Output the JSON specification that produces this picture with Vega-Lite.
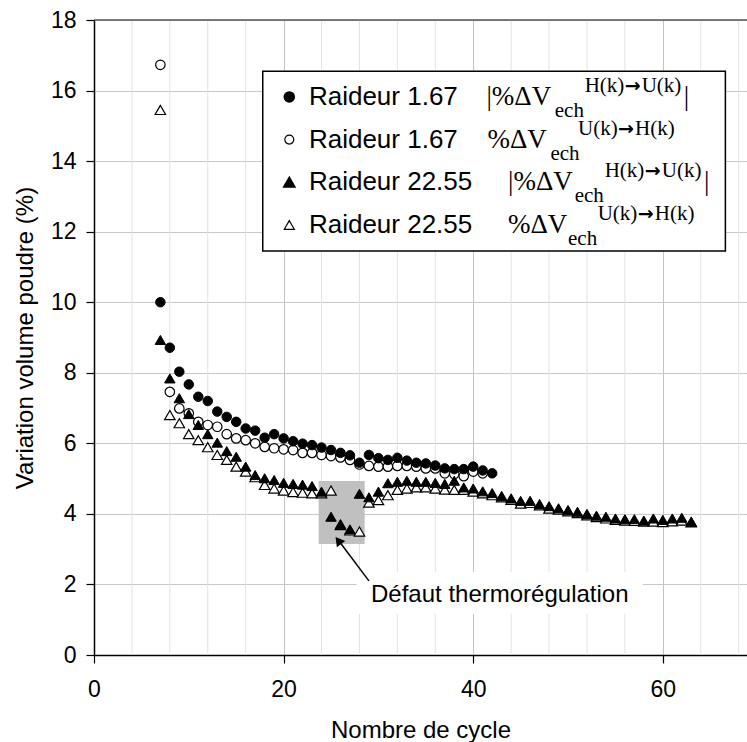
{
  "$schema": "https://vega.github.io/schema/vega-lite/v6.json",
  "autosize": "none",
  "width": 653,
  "height": 635,
  "padding": {"left": 94, "right": 0, "top": 20, "bottom": 87},
  "background": "white",
  "config": {"view": {"stroke": null}, "font": "Liberation Sans"},
  "datasets": {
    "one": [{}],
    "minorgrid": [{"g": 4}, {"g": 8}, {"g": 12}, {"g": 16}, {"g": 24}, {"g": 28}, {"g": 32}, {"g": 36}, {"g": 44}, {"g": 48}, {"g": 52}, {"g": 56}, {"g": 64}, {"g": 68}],
    "pts": [
      {"c": 7, "v": 15.45, "s": "22.55 U-H"}, {"c": 8, "v": 6.8, "s": "22.55 U-H"}, {"c": 9, "v": 6.57, "s": "22.55 U-H"}, {"c": 10, "v": 6.26, "s": "22.55 U-H"},
      {"c": 11, "v": 6.09, "s": "22.55 U-H"}, {"c": 12, "v": 5.89, "s": "22.55 U-H"}, {"c": 13, "v": 5.67, "s": "22.55 U-H"}, {"c": 14, "v": 5.53, "s": "22.55 U-H"},
      {"c": 15, "v": 5.34, "s": "22.55 U-H"}, {"c": 16, "v": 5.2, "s": "22.55 U-H"}, {"c": 17, "v": 5.04, "s": "22.55 U-H"}, {"c": 18, "v": 4.82, "s": "22.55 U-H"},
      {"c": 19, "v": 4.72, "s": "22.55 U-H"}, {"c": 20, "v": 4.66, "s": "22.55 U-H"}, {"c": 21, "v": 4.62, "s": "22.55 U-H"}, {"c": 22, "v": 4.6, "s": "22.55 U-H"},
      {"c": 23, "v": 4.58, "s": "22.55 U-H"}, {"c": 24, "v": 4.58, "s": "22.55 U-H"}, {"c": 25, "v": 4.66, "s": "22.55 U-H"}, {"c": 26, "v": 3.68, "s": "22.55 U-H"},
      {"c": 27, "v": 3.53, "s": "22.55 U-H"}, {"c": 28, "v": 3.5, "s": "22.55 U-H"}, {"c": 29, "v": 4.32, "s": "22.55 U-H"}, {"c": 30, "v": 4.39, "s": "22.55 U-H"},
      {"c": 31, "v": 4.53, "s": "22.55 U-H"}, {"c": 32, "v": 4.68, "s": "22.55 U-H"}, {"c": 33, "v": 4.72, "s": "22.55 U-H"}, {"c": 34, "v": 4.75, "s": "22.55 U-H"},
      {"c": 35, "v": 4.75, "s": "22.55 U-H"}, {"c": 36, "v": 4.72, "s": "22.55 U-H"}, {"c": 37, "v": 4.69, "s": "22.55 U-H"}, {"c": 38, "v": 4.68, "s": "22.55 U-H"},
      {"c": 39, "v": 4.68, "s": "22.55 U-H"}, {"c": 40, "v": 4.63, "s": "22.55 U-H"}, {"c": 41, "v": 4.58, "s": "22.55 U-H"}, {"c": 42, "v": 4.53, "s": "22.55 U-H"},
      {"c": 43, "v": 4.47, "s": "22.55 U-H"}, {"c": 44, "v": 4.4, "s": "22.55 U-H"}, {"c": 45, "v": 4.29, "s": "22.55 U-H"}, {"c": 46, "v": 4.31, "s": "22.55 U-H"},
      {"c": 47, "v": 4.24, "s": "22.55 U-H"}, {"c": 48, "v": 4.15, "s": "22.55 U-H"}, {"c": 49, "v": 4.12, "s": "22.55 U-H"}, {"c": 50, "v": 4.07, "s": "22.55 U-H"},
      {"c": 51, "v": 4.02, "s": "22.55 U-H"}, {"c": 52, "v": 3.96, "s": "22.55 U-H"}, {"c": 53, "v": 3.91, "s": "22.55 U-H"}, {"c": 54, "v": 3.87, "s": "22.55 U-H"},
      {"c": 55, "v": 3.83, "s": "22.55 U-H"}, {"c": 56, "v": 3.81, "s": "22.55 U-H"}, {"c": 57, "v": 3.8, "s": "22.55 U-H"}, {"c": 58, "v": 3.78, "s": "22.55 U-H"},
      {"c": 59, "v": 3.78, "s": "22.55 U-H"}, {"c": 60, "v": 3.77, "s": "22.55 U-H"}, {"c": 61, "v": 3.79, "s": "22.55 U-H"}, {"c": 62, "v": 3.81, "s": "22.55 U-H"},
      {"c": 63, "v": 3.76, "s": "22.55 U-H"},

      {"c": 7, "v": 16.73, "s": "1.67 U-H"}, {"c": 8, "v": 7.46, "s": "1.67 U-H"}, {"c": 9, "v": 6.99, "s": "1.67 U-H"}, {"c": 10, "v": 6.85, "s": "1.67 U-H"},
      {"c": 11, "v": 6.61, "s": "1.67 U-H"}, {"c": 12, "v": 6.52, "s": "1.67 U-H"}, {"c": 13, "v": 6.47, "s": "1.67 U-H"}, {"c": 14, "v": 6.26, "s": "1.67 U-H"},
      {"c": 15, "v": 6.14, "s": "1.67 U-H"}, {"c": 16, "v": 6.09, "s": "1.67 U-H"}, {"c": 17, "v": 6.0, "s": "1.67 U-H"}, {"c": 18, "v": 5.9, "s": "1.67 U-H"},
      {"c": 19, "v": 5.86, "s": "1.67 U-H"}, {"c": 20, "v": 5.83, "s": "1.67 U-H"}, {"c": 21, "v": 5.81, "s": "1.67 U-H"}, {"c": 22, "v": 5.73, "s": "1.67 U-H"},
      {"c": 23, "v": 5.73, "s": "1.67 U-H"}, {"c": 24, "v": 5.67, "s": "1.67 U-H"}, {"c": 25, "v": 5.64, "s": "1.67 U-H"}, {"c": 26, "v": 5.6, "s": "1.67 U-H"},
      {"c": 27, "v": 5.53, "s": "1.67 U-H"}, {"c": 28, "v": 5.4, "s": "1.67 U-H"}, {"c": 29, "v": 5.36, "s": "1.67 U-H"}, {"c": 30, "v": 5.34, "s": "1.67 U-H"},
      {"c": 31, "v": 5.34, "s": "1.67 U-H"}, {"c": 32, "v": 5.36, "s": "1.67 U-H"}, {"c": 33, "v": 5.36, "s": "1.67 U-H"}, {"c": 34, "v": 5.34, "s": "1.67 U-H"},
      {"c": 35, "v": 5.29, "s": "1.67 U-H"}, {"c": 36, "v": 5.29, "s": "1.67 U-H"}, {"c": 37, "v": 5.15, "s": "1.67 U-H"}, {"c": 38, "v": 5.13, "s": "1.67 U-H"},
      {"c": 39, "v": 5.07, "s": "1.67 U-H"}, {"c": 40, "v": 5.2, "s": "1.67 U-H"}, {"c": 41, "v": 5.15, "s": "1.67 U-H"},

      {"c": 7, "v": 8.93, "s": "22.55 H-U"}, {"c": 8, "v": 7.84, "s": "22.55 H-U"}, {"c": 9, "v": 7.28, "s": "22.55 H-U"}, {"c": 10, "v": 6.83, "s": "22.55 H-U"},
      {"c": 11, "v": 6.52, "s": "22.55 H-U"}, {"c": 12, "v": 6.26, "s": "22.55 H-U"}, {"c": 13, "v": 6.02, "s": "22.55 H-U"}, {"c": 14, "v": 5.78, "s": "22.55 H-U"},
      {"c": 15, "v": 5.62, "s": "22.55 H-U"}, {"c": 16, "v": 5.34, "s": "22.55 H-U"}, {"c": 17, "v": 5.1, "s": "22.55 H-U"}, {"c": 18, "v": 5.01, "s": "22.55 H-U"},
      {"c": 19, "v": 4.96, "s": "22.55 H-U"}, {"c": 20, "v": 4.88, "s": "22.55 H-U"}, {"c": 21, "v": 4.85, "s": "22.55 H-U"}, {"c": 22, "v": 4.83, "s": "22.55 H-U"},
      {"c": 23, "v": 4.79, "s": "22.55 H-U"}, {"c": 24, "v": 4.63, "s": "22.55 H-U"}, {"c": 25, "v": 3.92, "s": "22.55 H-U"}, {"c": 26, "v": 3.71, "s": "22.55 H-U"},
      {"c": 27, "v": 3.56, "s": "22.55 H-U"}, {"c": 28, "v": 4.57, "s": "22.55 H-U"}, {"c": 29, "v": 4.47, "s": "22.55 H-U"}, {"c": 30, "v": 4.63, "s": "22.55 H-U"},
      {"c": 31, "v": 4.87, "s": "22.55 H-U"}, {"c": 32, "v": 4.91, "s": "22.55 H-U"}, {"c": 33, "v": 4.94, "s": "22.55 H-U"}, {"c": 34, "v": 4.91, "s": "22.55 H-U"},
      {"c": 35, "v": 4.91, "s": "22.55 H-U"}, {"c": 36, "v": 4.88, "s": "22.55 H-U"}, {"c": 37, "v": 4.85, "s": "22.55 H-U"}, {"c": 38, "v": 4.94, "s": "22.55 H-U"},
      {"c": 39, "v": 4.75, "s": "22.55 H-U"}, {"c": 40, "v": 4.72, "s": "22.55 H-U"}, {"c": 41, "v": 4.64, "s": "22.55 H-U"}, {"c": 42, "v": 4.59, "s": "22.55 H-U"},
      {"c": 43, "v": 4.51, "s": "22.55 H-U"}, {"c": 44, "v": 4.44, "s": "22.55 H-U"}, {"c": 45, "v": 4.37, "s": "22.55 H-U"}, {"c": 46, "v": 4.37, "s": "22.55 H-U"},
      {"c": 47, "v": 4.28, "s": "22.55 H-U"}, {"c": 48, "v": 4.22, "s": "22.55 H-U"}, {"c": 49, "v": 4.16, "s": "22.55 H-U"}, {"c": 50, "v": 4.11, "s": "22.55 H-U"},
      {"c": 51, "v": 4.06, "s": "22.55 H-U"}, {"c": 52, "v": 4.0, "s": "22.55 H-U"}, {"c": 53, "v": 3.95, "s": "22.55 H-U"}, {"c": 54, "v": 3.92, "s": "22.55 H-U"},
      {"c": 55, "v": 3.87, "s": "22.55 H-U"}, {"c": 56, "v": 3.85, "s": "22.55 H-U"}, {"c": 57, "v": 3.85, "s": "22.55 H-U"}, {"c": 58, "v": 3.81, "s": "22.55 H-U"},
      {"c": 59, "v": 3.87, "s": "22.55 H-U"}, {"c": 60, "v": 3.83, "s": "22.55 H-U"}, {"c": 61, "v": 3.87, "s": "22.55 H-U"}, {"c": 62, "v": 3.89, "s": "22.55 H-U"},
      {"c": 63, "v": 3.78, "s": "22.55 H-U"},

      {"c": 7, "v": 10.0, "s": "1.67 H-U"}, {"c": 8, "v": 8.71, "s": "1.67 H-U"}, {"c": 9, "v": 8.03, "s": "1.67 H-U"}, {"c": 10, "v": 7.67, "s": "1.67 H-U"},
      {"c": 11, "v": 7.32, "s": "1.67 H-U"}, {"c": 12, "v": 7.2, "s": "1.67 H-U"}, {"c": 13, "v": 6.9, "s": "1.67 H-U"}, {"c": 14, "v": 6.75, "s": "1.67 H-U"},
      {"c": 15, "v": 6.61, "s": "1.67 H-U"}, {"c": 16, "v": 6.42, "s": "1.67 H-U"}, {"c": 17, "v": 6.36, "s": "1.67 H-U"}, {"c": 18, "v": 6.16, "s": "1.67 H-U"},
      {"c": 19, "v": 6.26, "s": "1.67 H-U"}, {"c": 20, "v": 6.14, "s": "1.67 H-U"}, {"c": 21, "v": 6.06, "s": "1.67 H-U"}, {"c": 22, "v": 5.99, "s": "1.67 H-U"},
      {"c": 23, "v": 5.95, "s": "1.67 H-U"}, {"c": 24, "v": 5.88, "s": "1.67 H-U"}, {"c": 25, "v": 5.81, "s": "1.67 H-U"}, {"c": 26, "v": 5.73, "s": "1.67 H-U"},
      {"c": 27, "v": 5.66, "s": "1.67 H-U"}, {"c": 28, "v": 5.45, "s": "1.67 H-U"}, {"c": 29, "v": 5.67, "s": "1.67 H-U"}, {"c": 30, "v": 5.58, "s": "1.67 H-U"},
      {"c": 31, "v": 5.53, "s": "1.67 H-U"}, {"c": 32, "v": 5.59, "s": "1.67 H-U"}, {"c": 33, "v": 5.51, "s": "1.67 H-U"}, {"c": 34, "v": 5.45, "s": "1.67 H-U"},
      {"c": 35, "v": 5.43, "s": "1.67 H-U"}, {"c": 36, "v": 5.37, "s": "1.67 H-U"}, {"c": 37, "v": 5.29, "s": "1.67 H-U"}, {"c": 38, "v": 5.27, "s": "1.67 H-U"},
      {"c": 39, "v": 5.27, "s": "1.67 H-U"}, {"c": 40, "v": 5.34, "s": "1.67 H-U"}, {"c": 41, "v": 5.23, "s": "1.67 H-U"}, {"c": 42, "v": 5.15, "s": "1.67 H-U"}
    ]
  },
  "layer": [
    {
      "data": {"name": "minorgrid"},
      "mark": {"type": "rule", "color": "#e2e2e2", "strokeWidth": 1},
      "encoding": {
        "x": {"field": "g", "type": "quantitative", "title": "Nombre de cycle",
          "scale": {"domain": [0, 68.88], "nice": false, "zero": false},
          "axis": {
            "values": [0, 20, 40, 60],
            "grid": true, "gridColor": "#c2c2c2", "gridWidth": 1,
            "labelOverlap": false, "labelFlush": false,
            "tickSize": 8, "tickColor": "black", "tickWidth": 1.2,
            "domainColor": "black", "domainWidth": 1.5,
            "labelFont": "Liberation Sans", "labelFontSize": 23, "labelColor": "black", "labelPadding": 15,
            "titleFont": "Liberation Sans", "titleFontSize": 24, "titleFontWeight": "normal", "titleColor": "black", "titlePadding": 17
          }
        }
      }
    },
    {
      "data": {"name": "one"},
      "mark": {"type": "rect", "color": "#c0c0c0"},
      "encoding": {
        "x": {"datum": 23.7, "type": "quantitative", "title": "Nombre de cycle"},
        "x2": {"datum": 28.55},
        "y": {"datum": 4.93, "type": "quantitative", "title": "Variation volume poudre (%)",
          "scale": {"domain": [0, 18], "nice": false, "zero": true},
          "axis": {
            "values": [0, 2, 4, 6, 8, 10, 12, 14, 16, 18],
            "grid": true, "gridColor": "#c8c8c8", "gridWidth": 1,
            "labelFlush": false, "labelOverlap": false,
            "tickSize": 8, "tickColor": "black", "tickWidth": 1.2,
            "domainColor": "black", "domainWidth": 1.5,
            "labelFont": "Liberation Sans", "labelFontSize": 23, "labelColor": "black", "labelPadding": 10,
            "titleFont": "Liberation Sans", "titleFontSize": 24, "titleFontWeight": "normal", "titleColor": "black", "titlePadding": 13
          }
        },
        "y2": {"datum": 3.15}
      }
    },
    {
      "data": {"name": "one"},
      "mark": {"type": "rect", "color": "white"},
      "encoding": {
        "x": {"datum": 27.7, "type": "quantitative", "title": "Nombre de cycle"}, "x2": {"datum": 57.9},
        "y": {"datum": 2.35, "type": "quantitative", "title": "Variation volume poudre (%)"}, "y2": {"datum": 1.16}
      }
    },
    {
      "data": {"name": "one"},
      "mark": {"type": "rule", "color": "black", "strokeWidth": 1.5},
      "encoding": {
        "x": {"datum": 29.0, "type": "quantitative", "title": "Nombre de cycle"}, "x2": {"datum": 25.7},
        "y": {"datum": 2.1, "type": "quantitative", "title": "Variation volume poudre (%)"}, "y2": {"datum": 3.28}
      }
    },
    {
      "data": {"name": "one"},
      "mark": {"type": "point", "shape": "triangle-up", "filled": true, "color": "black", "size": 110, "angle": 323, "opacity": 1},
      "encoding": {
        "x": {"datum": 25.77, "type": "quantitative", "title": "Nombre de cycle"},
        "y": {"datum": 3.245, "type": "quantitative", "title": "Variation volume poudre (%)"}
      }
    },
    {
      "data": {"name": "pts"},
      "transform": [{"filter": "datum.s === '22.55 U-H'"}],
      "mark": {"type": "point", "shape": "triangle-up", "filled": true, "fill": "white", "stroke": "black", "strokeWidth": 1.2, "size": 110, "opacity": 1},
      "encoding": {
        "x": {"field": "c", "type": "quantitative", "title": "Nombre de cycle"},
        "y": {"field": "v", "type": "quantitative", "title": "Variation volume poudre (%)"}
      }
    },
    {
      "data": {"name": "pts"},
      "transform": [{"filter": "datum.s === '1.67 U-H'"}],
      "mark": {"type": "point", "shape": "circle", "filled": true, "fill": "white", "stroke": "black", "strokeWidth": 1.2, "size": 90, "opacity": 1},
      "encoding": {
        "x": {"field": "c", "type": "quantitative", "title": "Nombre de cycle"},
        "y": {"field": "v", "type": "quantitative", "title": "Variation volume poudre (%)"}
      }
    },
    {
      "data": {"name": "pts"},
      "transform": [{"filter": "datum.s === '22.55 H-U'"}],
      "mark": {"type": "point", "shape": "triangle-up", "filled": true, "fill": "black", "stroke": "black", "strokeWidth": 1, "size": 110, "opacity": 1},
      "encoding": {
        "x": {"field": "c", "type": "quantitative", "title": "Nombre de cycle"},
        "y": {"field": "v", "type": "quantitative", "title": "Variation volume poudre (%)"}
      }
    },
    {
      "data": {"name": "pts"},
      "transform": [{"filter": "datum.s === '1.67 H-U'"}],
      "mark": {"type": "point", "shape": "circle", "filled": true, "fill": "black", "stroke": "black", "strokeWidth": 1, "size": 90, "opacity": 1},
      "encoding": {
        "x": {"field": "c", "type": "quantitative", "title": "Nombre de cycle"},
        "y": {"field": "v", "type": "quantitative", "title": "Variation volume poudre (%)"}
      }
    },
    {
      "data": {"name": "one"},
      "mark": {"type": "rule", "color": "#555555", "strokeWidth": 1.5},
      "encoding": {"y": {"datum": 18, "type": "quantitative", "title": "Variation volume poudre (%)"}}
    },
    {
      "data": {"name": "one"},
      "mark": {"type": "text", "text": "Défaut thermorégulation", "font": "Liberation Sans", "fontSize": 24, "align": "center", "baseline": "alphabetic", "color": "black"},
      "encoding": {
        "x": {"datum": 42.8, "type": "quantitative", "title": "Nombre de cycle"},
        "y": {"datum": 1.51, "type": "quantitative", "title": "Variation volume poudre (%)"}
      }
    },
    {
      "data": {"name": "one"},
      "mark": {"type": "rect", "fill": "white", "stroke": "black", "strokeWidth": 1.5},
      "encoding": {
        "x": {"datum": 17.8, "type": "quantitative", "title": "Nombre de cycle"}, "x2": {"datum": 66.6},
        "y": {"datum": 16.55, "type": "quantitative", "title": "Variation volume poudre (%)"}, "y2": {"datum": 11.45}
      }
    },
    {"data": {"name": "one"}, "mark": {"type": "point", "shape": "circle", "filled": true, "fill": "black", "stroke": "black", "size": 90, "opacity": 1},
      "encoding": {"x": {"datum": 20.6, "type": "quantitative", "title": "Nombre de cycle"}, "y": {"datum": 15.82, "type": "quantitative", "title": "Variation volume poudre (%)"}}},
    {"data": {"name": "one"}, "mark": {"type": "point", "shape": "circle", "filled": true, "fill": "white", "stroke": "black", "strokeWidth": 1.2, "size": 80, "opacity": 1},
      "encoding": {"x": {"datum": 20.6, "type": "quantitative", "title": "Nombre de cycle"}, "y": {"datum": 14.61, "type": "quantitative", "title": "Variation volume poudre (%)"}}},
    {"data": {"name": "one"}, "mark": {"type": "point", "shape": "triangle-up", "filled": true, "fill": "black", "stroke": "black", "size": 110, "opacity": 1},
      "encoding": {"x": {"datum": 20.6, "type": "quantitative", "title": "Nombre de cycle"}, "y": {"datum": 13.4, "type": "quantitative", "title": "Variation volume poudre (%)"}}},
    {"data": {"name": "one"}, "mark": {"type": "point", "shape": "triangle-up", "filled": true, "fill": "white", "stroke": "black", "strokeWidth": 1.2, "size": 100, "opacity": 1},
      "encoding": {"x": {"datum": 20.6, "type": "quantitative", "title": "Nombre de cycle"}, "y": {"datum": 12.19, "type": "quantitative", "title": "Variation volume poudre (%)"}}},

    {"data": {"name": "one"}, "mark": {"type": "text", "text": "Raideur 1.67", "font": "Liberation Sans", "fontSize": 26, "align": "left", "baseline": "alphabetic", "dy": 8, "color": "black"},
      "encoding": {"x": {"datum": 22.67, "type": "quantitative", "title": "Nombre de cycle"}, "y": {"datum": 15.82, "type": "quantitative", "title": "Variation volume poudre (%)"}}},
    {"data": {"name": "one"}, "mark": {"type": "text", "text": "Raideur 1.67", "font": "Liberation Sans", "fontSize": 26, "align": "left", "baseline": "alphabetic", "dy": 8, "color": "black"},
      "encoding": {"x": {"datum": 22.67, "type": "quantitative", "title": "Nombre de cycle"}, "y": {"datum": 14.61, "type": "quantitative", "title": "Variation volume poudre (%)"}}},
    {"data": {"name": "one"}, "mark": {"type": "text", "text": "Raideur 22.55", "font": "Liberation Sans", "fontSize": 26, "align": "left", "baseline": "alphabetic", "dy": 8, "color": "black"},
      "encoding": {"x": {"datum": 22.67, "type": "quantitative", "title": "Nombre de cycle"}, "y": {"datum": 13.4, "type": "quantitative", "title": "Variation volume poudre (%)"}}},
    {"data": {"name": "one"}, "mark": {"type": "text", "text": "Raideur 22.55", "font": "Liberation Sans", "fontSize": 26, "align": "left", "baseline": "alphabetic", "dy": 8, "color": "black"},
      "encoding": {"x": {"datum": 22.67, "type": "quantitative", "title": "Nombre de cycle"}, "y": {"datum": 12.19, "type": "quantitative", "title": "Variation volume poudre (%)"}}},

    {"data": {"name": "one"}, "mark": {"type": "text", "text": "|%ΔV", "font": "Liberation Serif", "fontSize": 27, "align": "left", "baseline": "alphabetic", "dy": 8, "color": "black"},
      "encoding": {"x": {"datum": 41.39, "type": "quantitative", "title": "Nombre de cycle"}, "y": {"datum": 15.82, "type": "quantitative", "title": "Variation volume poudre (%)"}}},
    {"data": {"name": "one"}, "mark": {"type": "text", "text": "ech", "font": "Liberation Serif", "fontSize": 21, "align": "left", "baseline": "alphabetic", "dy": 20, "color": "black"},
      "encoding": {"x": {"datum": 48.6, "type": "quantitative", "title": "Nombre de cycle"}, "y": {"datum": 15.82, "type": "quantitative", "title": "Variation volume poudre (%)"}}},
    {"data": {"name": "one"}, "mark": {"type": "text", "text": "H(k)", "font": "Liberation Serif", "fontSize": 21, "align": "left", "baseline": "alphabetic", "dy": -5, "color": "black"},
      "encoding": {"x": {"datum": 51.76, "type": "quantitative", "title": "Nombre de cycle"}, "y": {"datum": 15.82, "type": "quantitative", "title": "Variation volume poudre (%)"}}},
    {"data": {"name": "one"}, "mark": {"type": "text", "text": "→", "font": "DejaVu Sans", "fontWeight": "bold", "fontSize": 19, "align": "left", "baseline": "alphabetic", "dy": -5, "color": "black"},
      "encoding": {"x": {"datum": 55.98, "type": "quantitative", "title": "Nombre de cycle"}, "y": {"datum": 15.82, "type": "quantitative", "title": "Variation volume poudre (%)"}}},
    {"data": {"name": "one"}, "mark": {"type": "text", "text": "U(k)", "font": "Liberation Serif", "fontSize": 21, "align": "left", "baseline": "alphabetic", "dy": -5, "color": "black"},
      "encoding": {"x": {"datum": 57.77, "type": "quantitative", "title": "Nombre de cycle"}, "y": {"datum": 15.82, "type": "quantitative", "title": "Variation volume poudre (%)"}}},
    {"data": {"name": "one"}, "mark": {"type": "text", "text": "|", "font": "Liberation Serif", "fontSize": 27, "align": "left", "baseline": "alphabetic", "dy": 8, "color": "black"},
      "encoding": {"x": {"datum": 62.2, "type": "quantitative", "title": "Nombre de cycle"}, "y": {"datum": 15.82, "type": "quantitative", "title": "Variation volume poudre (%)"}}},

    {"data": {"name": "one"}, "mark": {"type": "text", "text": "%ΔV", "font": "Liberation Serif", "fontSize": 27, "align": "left", "baseline": "alphabetic", "dy": 8, "color": "black"},
      "encoding": {"x": {"datum": 41.5, "type": "quantitative", "title": "Nombre de cycle"}, "y": {"datum": 14.61, "type": "quantitative", "title": "Variation volume poudre (%)"}}},
    {"data": {"name": "one"}, "mark": {"type": "text", "text": "ech", "font": "Liberation Serif", "fontSize": 21, "align": "left", "baseline": "alphabetic", "dy": 20, "color": "black"},
      "encoding": {"x": {"datum": 48.15, "type": "quantitative", "title": "Nombre de cycle"}, "y": {"datum": 14.61, "type": "quantitative", "title": "Variation volume poudre (%)"}}},
    {"data": {"name": "one"}, "mark": {"type": "text", "text": "U(k)", "font": "Liberation Serif", "fontSize": 21, "align": "left", "baseline": "alphabetic", "dy": -5, "color": "black"},
      "encoding": {"x": {"datum": 51.05, "type": "quantitative", "title": "Nombre de cycle"}, "y": {"datum": 14.61, "type": "quantitative", "title": "Variation volume poudre (%)"}}},
    {"data": {"name": "one"}, "mark": {"type": "text", "text": "→", "font": "DejaVu Sans", "fontWeight": "bold", "fontSize": 19, "align": "left", "baseline": "alphabetic", "dy": -5, "color": "black"},
      "encoding": {"x": {"datum": 55.27, "type": "quantitative", "title": "Nombre de cycle"}, "y": {"datum": 14.61, "type": "quantitative", "title": "Variation volume poudre (%)"}}},
    {"data": {"name": "one"}, "mark": {"type": "text", "text": "H(k)", "font": "Liberation Serif", "fontSize": 21, "align": "left", "baseline": "alphabetic", "dy": -5, "color": "black"},
      "encoding": {"x": {"datum": 57.07, "type": "quantitative", "title": "Nombre de cycle"}, "y": {"datum": 14.61, "type": "quantitative", "title": "Variation volume poudre (%)"}}},

    {"data": {"name": "one"}, "mark": {"type": "text", "text": "|%ΔV", "font": "Liberation Serif", "fontSize": 27, "align": "left", "baseline": "alphabetic", "dy": 8, "color": "black"},
      "encoding": {"x": {"datum": 43.67, "type": "quantitative", "title": "Nombre de cycle"}, "y": {"datum": 13.4, "type": "quantitative", "title": "Variation volume poudre (%)"}}},
    {"data": {"name": "one"}, "mark": {"type": "text", "text": "ech", "font": "Liberation Serif", "fontSize": 21, "align": "left", "baseline": "alphabetic", "dy": 20, "color": "black"},
      "encoding": {"x": {"datum": 50.7, "type": "quantitative", "title": "Nombre de cycle"}, "y": {"datum": 13.4, "type": "quantitative", "title": "Variation volume poudre (%)"}}},
    {"data": {"name": "one"}, "mark": {"type": "text", "text": "H(k)", "font": "Liberation Serif", "fontSize": 21, "align": "left", "baseline": "alphabetic", "dy": -5, "color": "black"},
      "encoding": {"x": {"datum": 53.87, "type": "quantitative", "title": "Nombre de cycle"}, "y": {"datum": 13.4, "type": "quantitative", "title": "Variation volume poudre (%)"}}},
    {"data": {"name": "one"}, "mark": {"type": "text", "text": "→", "font": "DejaVu Sans", "fontWeight": "bold", "fontSize": 19, "align": "left", "baseline": "alphabetic", "dy": -5, "color": "black"},
      "encoding": {"x": {"datum": 58.09, "type": "quantitative", "title": "Nombre de cycle"}, "y": {"datum": 13.4, "type": "quantitative", "title": "Variation volume poudre (%)"}}},
    {"data": {"name": "one"}, "mark": {"type": "text", "text": "U(k)", "font": "Liberation Serif", "fontSize": 21, "align": "left", "baseline": "alphabetic", "dy": -5, "color": "black"},
      "encoding": {"x": {"datum": 59.89, "type": "quantitative", "title": "Nombre de cycle"}, "y": {"datum": 13.4, "type": "quantitative", "title": "Variation volume poudre (%)"}}},
    {"data": {"name": "one"}, "mark": {"type": "text", "text": "|", "font": "Liberation Serif", "fontSize": 27, "align": "left", "baseline": "alphabetic", "dy": 8, "color": "black"},
      "encoding": {"x": {"datum": 64.35, "type": "quantitative", "title": "Nombre de cycle"}, "y": {"datum": 13.4, "type": "quantitative", "title": "Variation volume poudre (%)"}}},

    {"data": {"name": "one"}, "mark": {"type": "text", "text": "%ΔV", "font": "Liberation Serif", "fontSize": 27, "align": "left", "baseline": "alphabetic", "dy": 8, "color": "black"},
      "encoding": {"x": {"datum": 43.67, "type": "quantitative", "title": "Nombre de cycle"}, "y": {"datum": 12.19, "type": "quantitative", "title": "Variation volume poudre (%)"}}},
    {"data": {"name": "one"}, "mark": {"type": "text", "text": "ech", "font": "Liberation Serif", "fontSize": 21, "align": "left", "baseline": "alphabetic", "dy": 20, "color": "black"},
      "encoding": {"x": {"datum": 50.0, "type": "quantitative", "title": "Nombre de cycle"}, "y": {"datum": 12.19, "type": "quantitative", "title": "Variation volume poudre (%)"}}},
    {"data": {"name": "one"}, "mark": {"type": "text", "text": "U(k)", "font": "Liberation Serif", "fontSize": 21, "align": "left", "baseline": "alphabetic", "dy": -5, "color": "black"},
      "encoding": {"x": {"datum": 53.13, "type": "quantitative", "title": "Nombre de cycle"}, "y": {"datum": 12.19, "type": "quantitative", "title": "Variation volume poudre (%)"}}},
    {"data": {"name": "one"}, "mark": {"type": "text", "text": "→", "font": "DejaVu Sans", "fontWeight": "bold", "fontSize": 19, "align": "left", "baseline": "alphabetic", "dy": -5, "color": "black"},
      "encoding": {"x": {"datum": 57.35, "type": "quantitative", "title": "Nombre de cycle"}, "y": {"datum": 12.19, "type": "quantitative", "title": "Variation volume poudre (%)"}}},
    {"data": {"name": "one"}, "mark": {"type": "text", "text": "H(k)", "font": "Liberation Serif", "fontSize": 21, "align": "left", "baseline": "alphabetic", "dy": -5, "color": "black"},
      "encoding": {"x": {"datum": 59.15, "type": "quantitative", "title": "Nombre de cycle"}, "y": {"datum": 12.19, "type": "quantitative", "title": "Variation volume poudre (%)"}}}
  ]
}
